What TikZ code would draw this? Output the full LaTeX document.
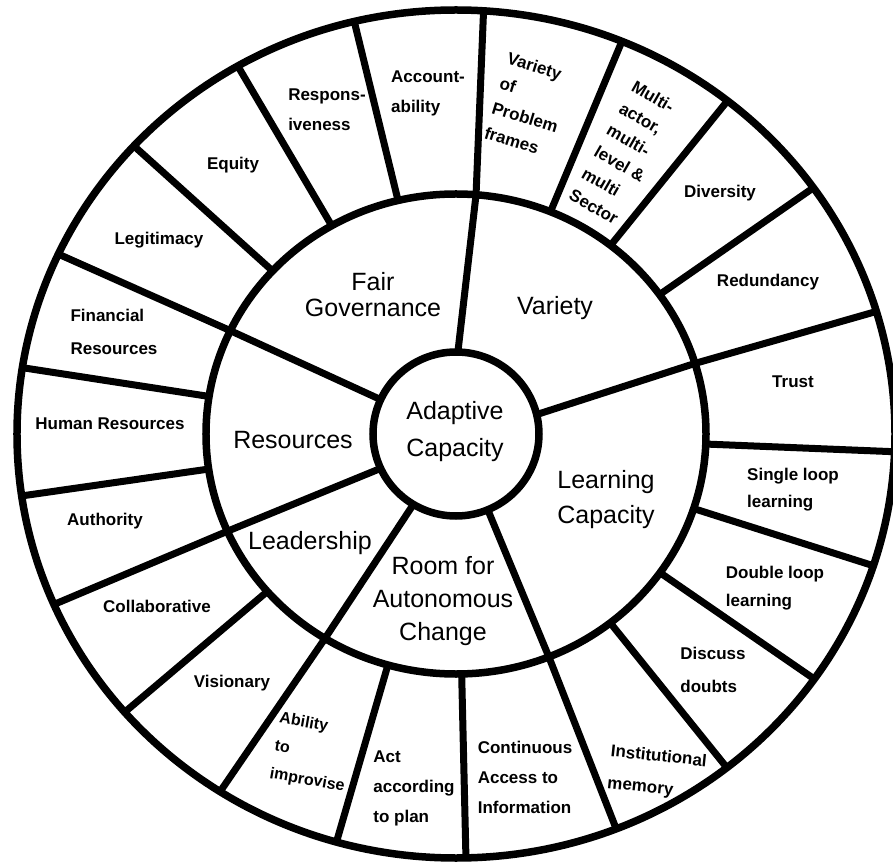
\documentclass[tikz,border=0pt]{standalone}
\usepackage{fontspec}
\setmainfont{Liberation Sans}
\begin{document}
\begin{tikzpicture}[x=1pt,y=1pt,
  ring/.style={line width=7.5pt},
  spoke/.style={line width=7pt},
  cat/.style={font=\fontsize{25}{32}\selectfont, align=center, inner sep=0pt},
  item/.style={font=\bfseries\fontsize{17}{29}\selectfont, align=left, inner sep=0pt},
]
\fill[white] (-456,-427) rectangle (437,434);
\useasboundingbox (-456,-427) rectangle (437,434);

% outer spokes (middle ring to outer ring)
\foreach \a in {103.4,119.8,137.2,171,-171.6,-139,-105.8,-88.7,-51.9,-35.3,-18.1,-2.4,35.5,51.8,67.8}
  \draw[spoke] (\a:250pt and 240pt) -- (\a:439pt and 424pt);

% main spokes (inner ring to outer ring)
\draw[spoke] (88.7:83pt and 82pt) -- (85.4:250pt and 240pt) -- (86.4:439pt and 424pt);
\draw[spoke] (13.7:83pt and 82pt) -- (17.1:250pt and 240pt) -- (16.8:439pt and 424pt);
\draw[spoke] (-67.5:83pt and 82pt) -- (-68.2:250pt and 240pt) -- (-68.6:439pt and 424pt);
\draw[spoke] (-120.9:83pt and 82pt) -- (-121.6:250pt and 240pt) -- (-122.5:439pt and 424pt);
\draw[spoke] (-155.2:83pt and 82pt) -- (-156.1:250pt and 240pt) -- (-156.3:439pt and 424pt);
\draw[spoke] (155.2:83pt and 82pt) -- (154.5:250pt and 240pt) -- (154.9:439pt and 424pt);

% rings
\draw[ring] (0,0) ellipse [x radius=439, y radius=424];
\draw[ring] (0,0) ellipse [x radius=250, y radius=240];
\draw[ring] (0,0) ellipse [x radius=83, y radius=82];

% centre and categories
\node[cat, font=\fontsize{25}{37}\selectfont] (adaptive) at (-1,2) {Adaptive\\Capacity};
\node[cat, font=\fontsize{25}{26}\selectfont] (fairgov) at (-83,139) {Fair\\Governance};
\node[cat] (variety) at (99,126) {Variety};
\node[cat, font=\fontsize{25}{35}\selectfont] (learning) at (150,-66) {Learning\\Capacity};
\node[cat, font=\fontsize{25}{33}\selectfont] (room) at (-13,-167) {Room for\\Autonomous\\Change};
\node[cat] (leadership) at (-146,-109) {Leadership};
\node[cat] (resources) at (-163,-6) {Resources};

% fair governance items
\node[item, font=\bfseries\fontsize{17}{30}\selectfont] (account) at (-28,341) {Account-\\ability};
\node[item, font=\bfseries\fontsize{17}{30}\selectfont] (respons) at (-129,324) {Respons-\\iveness};
\node[item] (equity) at (-223,269) {Equity};
\node[item] (legit) at (-297,194) {Legitimacy};

% resources items
\node[item, font=\bfseries\fontsize{17}{33}\selectfont] (financial) at (-342,102) {Financial\\Resources};
\node[item] (human) at (-346,10) {Human Resources};
\node[item] (authority) at (-351,-87) {Authority};

% leadership items
\node[item] (collab) at (-299,-172) {Collaborative};
\node[item] (vision) at (-224,-249) {Visionary};

% room for autonomous change items
\node[item, rotate=-10, font=\bfseries\fontsize{16}{28}\selectfont] (improvise) at (-144,-319) {Ability\\to\\improvise};
\node[item, font=\bfseries\fontsize{17}{30}\selectfont] (actplan) at (-42,-354) {Act\\according\\to plan};
\node[item, font=\bfseries\fontsize{17}{30}\selectfont] (continuous) at (69,-343) {Continuous\\Access to\\Information};

% learning capacity items
\node[item, rotate=-6, font=\bfseries\fontsize{17}{32}\selectfont] (instmem) at (201,-339) {Institutional\\memory};
\node[item, font=\bfseries\fontsize{17}{33}\selectfont] (discuss) at (257,-236) {Discuss\\doubts};
\node[item, font=\bfseries\fontsize{17}{28}\selectfont] (double) at (319,-154) {Double loop\\learning};
\node[item, font=\bfseries\fontsize{17}{27}\selectfont] (single) at (337,-56) {Single loop\\learning};
\node[item] (trust) at (337,52) {Trust};

% variety items
\node[item] (redund) at (312,152) {Redundancy};
\node[item] (divers) at (264,241) {Diversity};
\node[item, rotate=-30, font=\bfseries\fontsize{17}{25}\selectfont] (multi) at (170,281) {Multi-\\actor,\\multi-\\level \&\\multi\\Sector};
\node[item, rotate=-17, font=\bfseries\fontsize{17}{26}\selectfont] (problem) at (73,329) {Variety\\of\\Problem\\frames};
\end{tikzpicture}
\end{document}
